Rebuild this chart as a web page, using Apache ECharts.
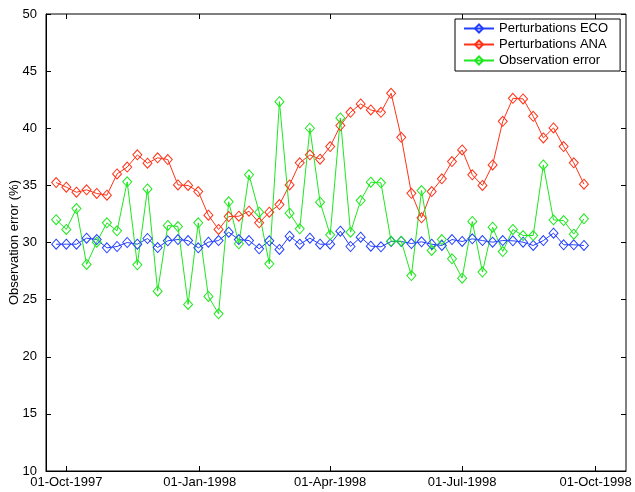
<!DOCTYPE html>
<html>
<head>
<meta charset="utf-8">
<script src="https://cdn.jsdelivr.net/npm/echarts@6/dist/echarts.min.js"></script>
<style>
  html, body { margin: 0; padding: 0; background: #fff; }
  #chart { width: 635px; height: 492px; }
</style>
</head>
<body>
<div id="chart"></div>
<script>
// weekly analysis dates
const dates = [
  '1997-09-24', '1997-10-01', '1997-10-08', '1997-10-15', '1997-10-22', '1997-10-29',
  '1997-11-05', '1997-11-12', '1997-11-19', '1997-11-26',
  '1997-12-03', '1997-12-10', '1997-12-17', '1997-12-24', '1997-12-31',
  '1998-01-07', '1998-01-14', '1998-01-21', '1998-01-28',
  '1998-02-04', '1998-02-11', '1998-02-18', '1998-02-25',
  '1998-03-04', '1998-03-11', '1998-03-18', '1998-03-25',
  '1998-04-01', '1998-04-08', '1998-04-15', '1998-04-22', '1998-04-29',
  '1998-05-06', '1998-05-13', '1998-05-20', '1998-05-27',
  '1998-06-03', '1998-06-10', '1998-06-17', '1998-06-24',
  '1998-07-01', '1998-07-08', '1998-07-15', '1998-07-22', '1998-07-29',
  '1998-08-05', '1998-08-12', '1998-08-19', '1998-08-26',
  '1998-09-02', '1998-09-09', '1998-09-16', '1998-09-23'
];

const pertECO = [
  29.85, 29.85, 29.85, 30.38, 30.26, 29.53, 29.65, 30.0, 29.85, 30.35,
  29.56, 30.15, 30.26, 30.17, 29.53, 30.03, 30.17, 30.9, 30.26, 30.17, 29.45,
  30.15, 29.39, 30.55, 29.85, 30.38, 29.85, 29.85, 30.99, 29.65, 30.47, 29.68,
  29.62, 30.09, 30.09, 29.91, 30.06, 29.85, 29.74, 30.26, 30.09, 30.32, 30.17,
  30.03, 30.17, 30.15, 30.03, 29.74, 30.17, 30.82, 29.8, 29.8, 29.74
];

const pertANA = [
  35.25, 34.84, 34.40, 34.61, 34.29, 34.14, 36.0, 36.6, 37.67, 36.94,
  37.41, 37.26, 35.04, 34.99, 34.46, 32.39, 31.14, 32.27, 32.30, 32.74, 31.72,
  32.65, 33.32, 35.04, 36.97, 37.67, 37.29, 38.40, 40.23, 41.40, 42.13, 41.60,
  41.40, 43.06, 39.21, 34.31, 32.16, 34.46, 35.57, 37.08, 38.10, 35.92, 34.99,
  36.79, 40.61, 42.62, 42.57, 41.05, 39.15, 40.03, 38.40, 36.97, 35.10
];

const obsError = [
  32.0, 31.14, 32.97, 28.08, 30.03, 31.72, 31.02, 35.31, 28.05, 34.69,
  25.74, 31.49, 31.40, 24.58, 31.72, 25.28, 23.76, 33.56, 29.88, 35.92, 32.65,
  28.13, 42.33, 32.57, 31.2, 40.0, 33.53, 30.67, 40.9, 30.9, 33.67, 35.28,
  35.22, 30.12, 30.12, 27.11, 34.55, 29.30, 30.26, 28.57, 26.88, 31.84, 27.41,
  31.34, 29.21, 31.14, 30.61, 30.61, 36.79, 31.98, 31.92, 30.73, 32.07
];

const tickDates = ['1997-10-01', '1998-01-01', '1998-04-01', '1998-07-01', '1998-10-01'];
const monthNames = ['Jan', 'Feb', 'Mar', 'Apr', 'May', 'Jun', 'Jul', 'Aug', 'Sep', 'Oct', 'Nov', 'Dec'];

let toTime = s => {
  let p = s.split('-');
  return new Date(+p[0], +p[1] - 1, +p[2]).getTime();
};
let pad = n => (n < 10 ? '0' + n : '' + n);
let fmtDate = v => {
  let d = new Date(v);
  return pad(d.getDate()) + '-' + monthNames[d.getMonth()] + '-' + d.getFullYear();
};

const tickValues = tickDates.map(toTime);
const xMin = toTime('1997-09-17');
const xMax = toTime('1998-10-22');

const fontFamily = '"Liberation Sans", Arial, Helvetica, sans-serif';
const colors = { eco: '#2440ff', ana: '#ff3318', obs: '#1ee81e' };

let makeSeries = (name, values, color) => ({
  name: name,
  type: 'line',
  xAxisIndex: 0,
  yAxisIndex: 0,
  data: dates.map((d, i) => [toTime(d), values[i]]),
  symbol: 'diamond',
  symbolSize: [9, 10],
  lineStyle: { color: color, width: 1 },
  itemStyle: { color: 'rgba(255,255,255,0)', borderColor: color, borderWidth: 1 },
  emphasis: { disabled: true },
});

let charts = echarts.init(document.getElementById('chart'));
charts.setOption({
  animation: false,
  backgroundColor: '#fff',
  textStyle: { fontFamily: fontFamily },
  grid: {
    left: 46,
    right: 9,
    top: 14,
    bottom: 21,
    containLabel: false,
    outerBoundsMode: 'none',
    show: true,
    borderColor: '#000',
    borderWidth: 1,
  },
  legend: {
    orient: 'vertical',
    left: 455,
    top: 19,
    backgroundColor: '#fff',
    borderColor: '#000',
    borderWidth: 1,
    borderRadius: 0,
    padding: [3, 12, 4, 8],
    itemGap: 3,
    itemWidth: 30,
    itemHeight: 10,
    textStyle: { fontSize: 13, color: '#000', fontFamily: fontFamily },
    data: ['Perturbations ECO', 'Perturbations ANA', 'Observation error'],
  },
  xAxis: [
    {
      type: 'value',
      min: xMin,
      max: xMax,
      axisLine: { lineStyle: { color: '#000' } },
      axisTick: { inside: true, length: 5, lineStyle: { color: '#000' }, customValues: tickValues },
      axisLabel: {
        color: '#000',
        fontSize: 13,
        margin: 5,
        customValues: tickValues,
        formatter: v => fmtDate(v),
      },
      splitLine: { show: false },
    },
    {
      type: 'value',
      position: 'top',
      min: xMin,
      max: xMax,
      axisLine: { show: false },
      axisTick: { inside: true, length: 5, lineStyle: { color: '#000' }, customValues: tickValues },
      axisLabel: { show: false, customValues: tickValues },
      splitLine: { show: false },
    },
  ],
  yAxis: [
    {
      type: 'value',
      min: 10,
      max: 50,
      interval: 5,
      name: 'Observation error (%)',
      nameLocation: 'middle',
      nameGap: 25,
      nameMoveOverlap: false,
      nameTextStyle: { fontSize: 13, color: '#000' },
      axisLine: { show: true, lineStyle: { color: '#000' } },
      axisTick: { show: true, inside: true, length: 5, lineStyle: { color: '#000' } },
      axisLabel: { color: '#000', fontSize: 13, margin: 9 },
      splitLine: { show: false },
    },
    {
      type: 'value',
      position: 'right',
      min: 10,
      max: 50,
      interval: 5,
      axisLine: { show: false },
      axisTick: { show: true, inside: true, length: 5, lineStyle: { color: '#000' } },
      axisLabel: { show: false },
      splitLine: { show: false },
    },
  ],
  series: [
    makeSeries('Perturbations ECO', pertECO, colors.eco),
    makeSeries('Perturbations ANA', pertANA, colors.ana),
    makeSeries('Observation error', obsError, colors.obs),
  ],
});
</script>
</body>
</html>
